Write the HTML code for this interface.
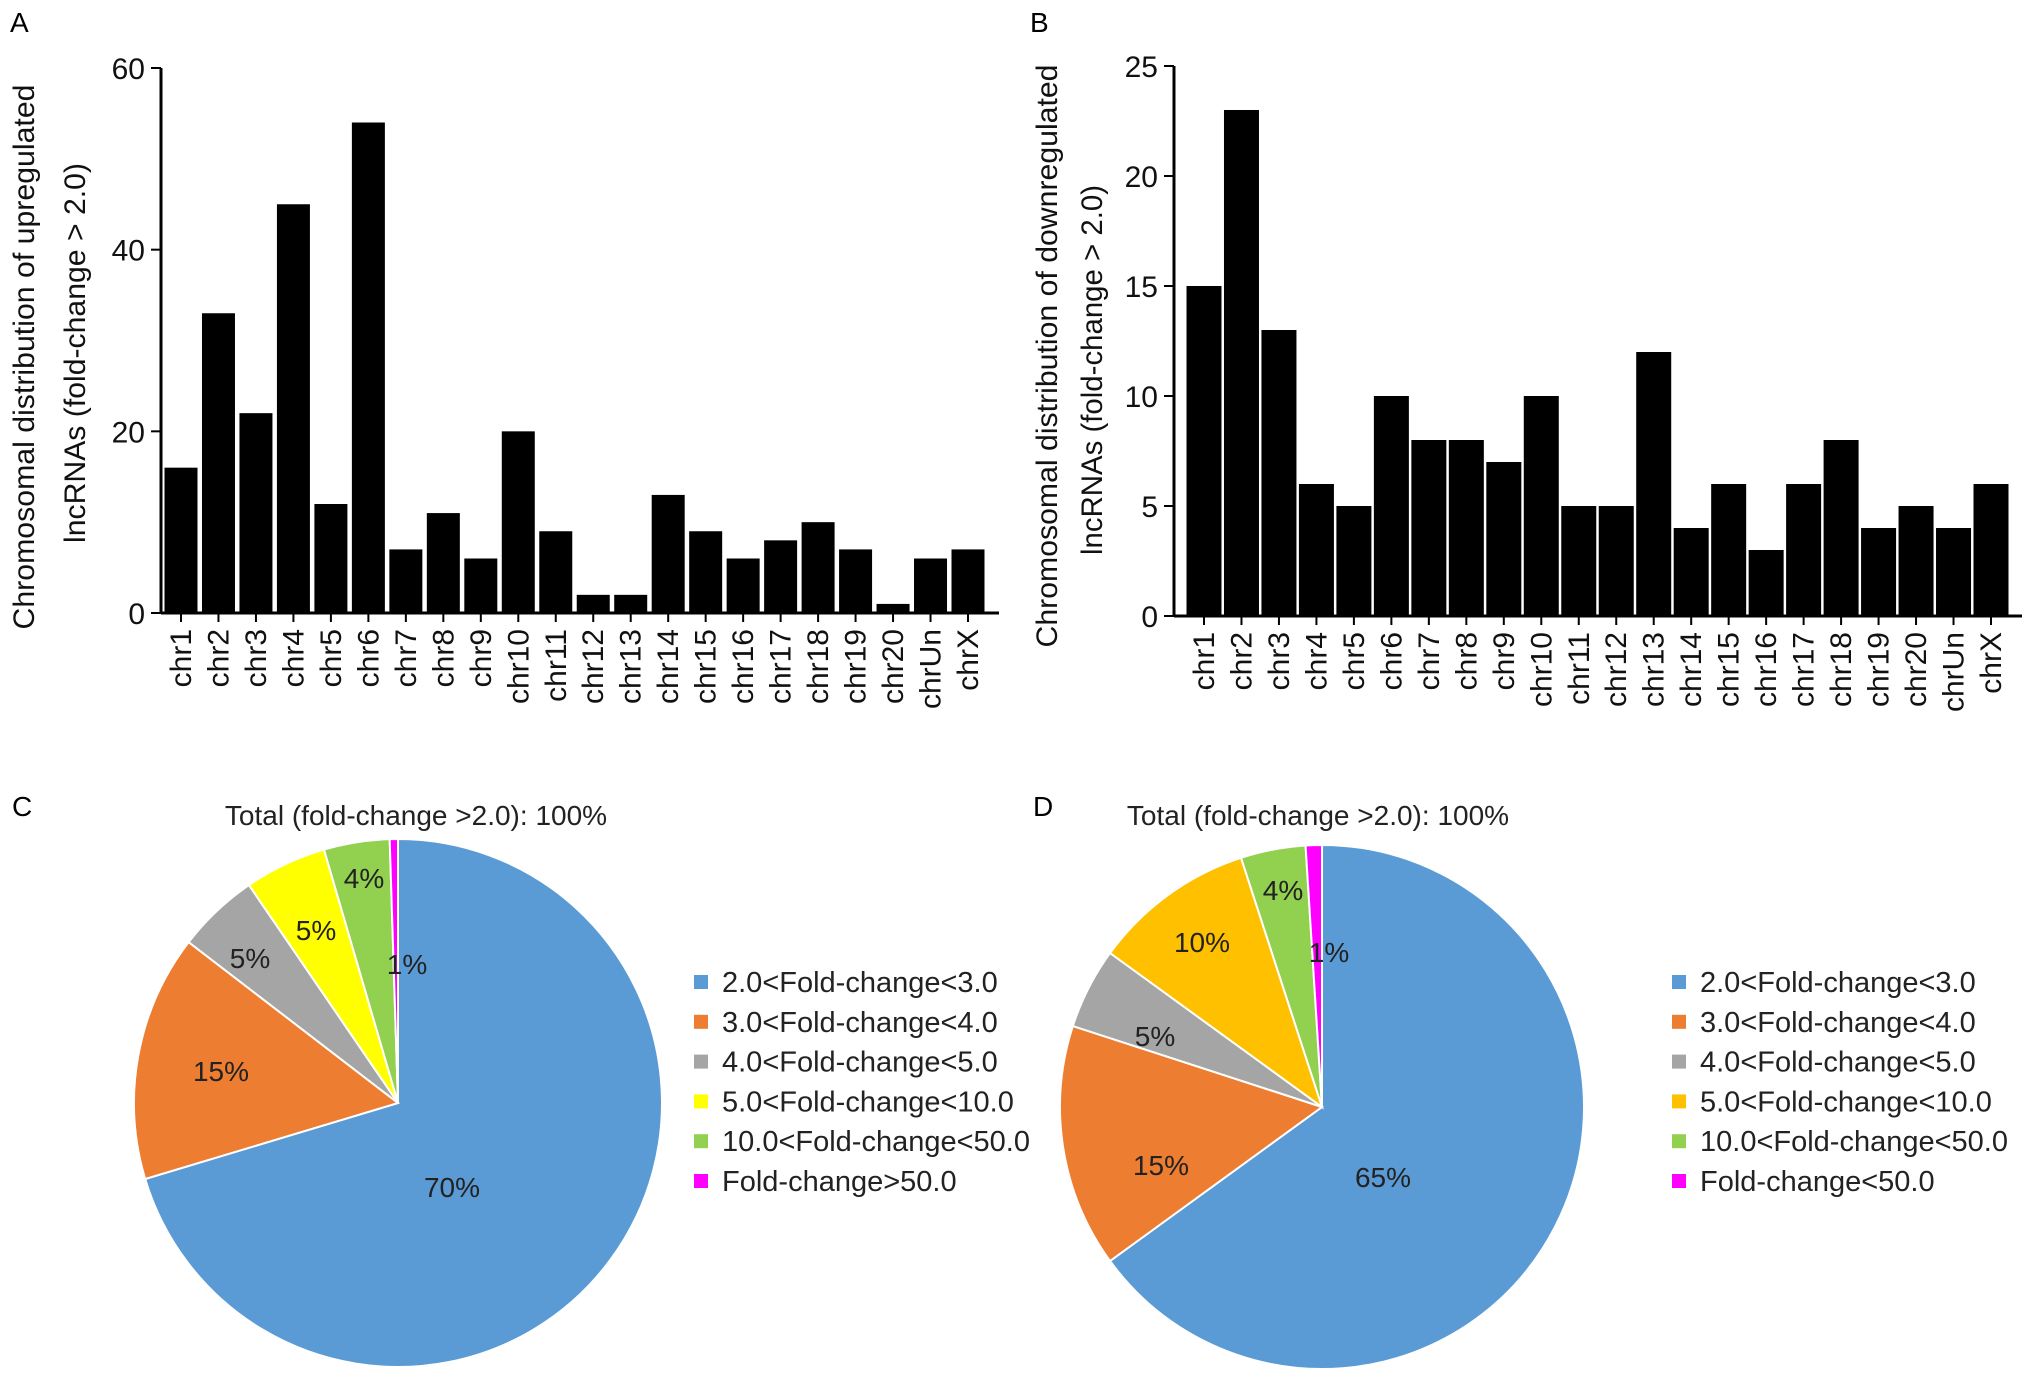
<!DOCTYPE html>
<html><head><meta charset="utf-8"><style>
html,body{margin:0;padding:0;background:#fff;}
svg{display:block;font-family:"Liberation Sans",sans-serif;}
</style></head><body>
<svg id="fig" width="2031" height="1383" viewBox="0 0 2031 1383">
<text x="10" y="32" font-size="28">A</text>
<text x="1030" y="32" font-size="28">B</text>
<text x="12" y="816" font-size="28">C</text>
<text x="1033" y="816" font-size="28">D</text>
</svg>
<script>
const NS="http://www.w3.org/2000/svg";
const svg=document.getElementById('fig');
const categories=["chr1","chr2","chr3","chr4","chr5","chr6","chr7","chr8","chr9","chr10","chr11","chr12","chr13","chr14","chr15","chr16","chr17","chr18","chr19","chr20","chrUn","chrX"];
const upValues=[16,33,22,45,12,54,7,11,6,20,9,2,2,13,9,6,8,10,7,1,6,7];
const downValues=[15,23,13,6,5,10,8,8,7,10,5,5,12,4,6,3,6,8,4,5,4,6];
const upTicks=[0,20,40,60];
const downTicks=[0,5,10,15,20,25];
const pieLabels=["2.0<Fold-change<3.0","3.0<Fold-change<4.0","4.0<Fold-change<5.0","5.0<Fold-change<10.0","10.0<Fold-change<50.0"];
const pieCValues=[70,15,5,5,4,0.5];
const pieCText=["70%","15%","5%","5%","4%","1%"];
const pieDValues=[65,15,5,10,4,1];
const pieDText=["65%","15%","5%","10%","4%","1%"];

function mk(tag,attrs,parent){const e=document.createElementNS(NS,tag);for(const k in attrs)e.setAttribute(k,attrs[k]);(parent||svg).appendChild(e);return e;}

function barChart(cfg){
  const g=mk('g',{});
  
  
  const y=v=>cfg.y0-(v/cfg.max)*(cfg.y0-cfg.yTop);
  const x=i=>cfg.c0+i*(cfg.c1-cfg.c0)/(categories.length-1);
  cfg.values.forEach((v,i)=>{
    const r=mk('rect',{x:x(i)-cfg.bw/2,y:y(v),width:cfg.bw,height:cfg.y0-y(v),fill:'#000'},g);
    
    
    mk('line',{x1:x(i),x2:x(i),y1:cfg.y0,y2:cfg.y0+9,stroke:'#000','stroke-width':2},g);
    const t=mk('text',{transform:`translate(${x(i)+10},${cfg.y0+16}) rotate(-90)`,'text-anchor':'end','font-size':30,fill:'#111'},g);
    t.textContent=categories[i];
    
    
  });
  mk('line',{x1:cfg.ax,x2:cfg.ax,y1:cfg.yTop,y2:cfg.y0,stroke:'#000','stroke-width':3},g);
  mk('line',{x1:cfg.ax,x2:cfg.xEnd,y1:cfg.y0,y2:cfg.y0,stroke:'#000','stroke-width':3},g);
  cfg.ticks.forEach(tv=>{
    mk('line',{x1:cfg.ax-10,x2:cfg.ax,y1:y(tv),y2:y(tv),stroke:'#000','stroke-width':2},g);
    const t=mk('text',{x:cfg.ax-16,y:y(tv)+11,'text-anchor':'end','font-size':30,fill:'#111'},g);
    t.textContent=tv;
    
    
  });
  cfg.title.forEach((ln,k)=>{
    const t=mk('text',{transform:`translate(${cfg.tx[k]+11},${cfg.tc[k]}) rotate(-90)`,'text-anchor':'middle','font-size':30,fill:'#111',textLength:ln[1],lengthAdjust:'spacingAndGlyphs'},g);
    t.textContent=ln[0];
    
    
  });
}
barChart({name:'upregulated-bar-chart',values:upValues,ticks:upTicks,max:60,ax:161,xEnd:999,yTop:68,y0:613,c0:181,c1:968,bw:33,
  title:[["Chromosomal distribution of upregulated",545],["lncRNAs (fold-change > 2.0)",380]],tx:[23,74],tc:[357,353]});
barChart({name:'downregulated-bar-chart',values:downValues,ticks:downTicks,max:25,ax:1174,xEnd:2022,yTop:66,y0:616,c0:1204,c1:1991,bw:35,
  title:[["Chromosomal distribution of downregulated",583],["lncRNAs (fold-change > 2.0)",370]],tx:[1046,1091],tc:[356,370]});

function pie(cfg){
  const g=mk('g',{});
  
  
  const tot=cfg.values.reduce((a,b)=>a+b,0);
  let a=0;
  const pt=(ang,r)=>[cfg.cx+r*Math.sin(ang),cfg.cy-r*Math.cos(ang)];
  cfg.values.forEach((v,i)=>{
    const a0=a, a1=a+v/tot*2*Math.PI; a=a1;
    const [x0,y0]=pt(a0,cfg.r),[x1,y1]=pt(a1,cfg.r);
    const p=mk('path',{d:`M${cfg.cx},${cfg.cy}L${x0},${y0}A${cfg.r},${cfg.r} 0 ${a1-a0>Math.PI?1:0} 1 ${x1},${y1}Z`,fill:cfg.colors[i],stroke:'#fff','stroke-width':2},g);
    
    
  });
  cfg.labelPos.forEach((lp,i)=>{
    const t=mk('text',{x:lp[0],y:lp[1]+10,'text-anchor':'middle','font-size':28,fill:'#222'},g);
    t.textContent=cfg.text[i];
    
    
  });
  const tt=mk('text',{x:cfg.titleX,y:825,'text-anchor':'middle','font-size':28,fill:'#222'},g);
  tt.textContent="Total (fold-change >2.0): 100%";
  
  
  const labs=pieLabels.concat([cfg.last]);
  labs.forEach((l,i)=>{
    const yy=982+i*39.8;
    const s=mk('rect',{x:cfg.lx-7,y:yy-7,width:14,height:14,fill:cfg.colors[i]},g);
    
    
    const t=mk('text',{x:cfg.lx+21,y:yy+10,'font-size':29,fill:'#222'},g);
    t.textContent=l;
    
    
  });
}
pie({name:'pie-upregulated',cx:398,cy:1103,r:264,values:pieCValues,text:pieCText,
  colors:['#5b9bd5','#ed7d31','#a5a5a5','#ffff00','#92d050','#ff00ff'],
  labelPos:[[452,1187],[221,1071],[250,958],[316,930],[364,878],[407,964]],titleX:416,lx:701,last:"Fold-change>50.0"});
pie({name:'pie-downregulated',cx:1322,cy:1107,r:262,values:pieDValues,text:pieDText,
  colors:['#5b9bd5','#ed7d31','#a5a5a5','#ffc000','#92d050','#ff00ff'],
  labelPos:[[1383,1177],[1161,1165],[1155,1036],[1202,942],[1283,890],[1329,952]],titleX:1318,lx:1679,last:"Fold-change<50.0"});
</script>
</body></html>
